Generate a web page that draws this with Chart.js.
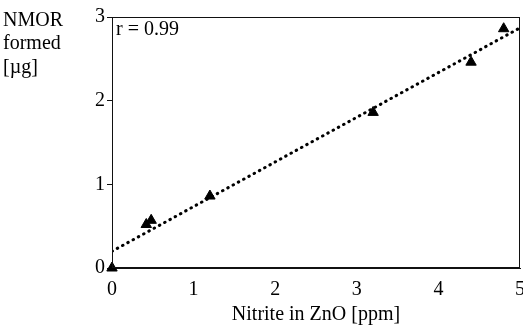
<!DOCTYPE html>
<html>
<head>
<meta charset="utf-8">
<style>
  html, body { margin: 0; padding: 0; background: #fff; }
  #wrap { width: 523px; height: 327px; }
</style>
<script src="https://cdn.jsdelivr.net/npm/chart.js@4/dist/chart.umd.min.js"></script>
</head>
<body>
<div id="wrap"><canvas id="myChart" width="523" height="327"></canvas></div>
<script>
// measured points (nitrite ppm vs NMOR µg)
const nitrite = [0, 0.42, 0.48, 1.2, 3.2, 4.4, 4.8];
const nmor = [0, 0.52, 0.57, 0.86, 1.86, 2.46, 2.86];
// regression line end points
const fitX = [0, 5];
const fitY = [0.2, 2.87];
const xTicks = [0, 1, 2, 3, 4, 5];
const yTicks = [0, 1, 2, 3];

const serif = "'Liberation Serif', 'Times New Roman', serif";

// frame + text labels
const extras = {
  id: "extras",
  afterDraw(chart) {
    const ctx = chart.ctx;
    const a = chart.chartArea;
    ctx.save();
    ctx.strokeStyle = "#111";
    ctx.lineWidth = 1;
    ctx.strokeRect(a.left + 0.5, a.top + 0.5, a.right - a.left - 1, a.bottom - a.top - 1);
    ctx.fillStyle = "#000";
    ctx.font = "20px " + serif;
    ctx.textBaseline = "alphabetic";
    ctx.textAlign = "left";
    ctx.fillText("NMOR", 3, 26);
    ctx.fillText("formed", 3, 49);
    ctx.fillText("[µg]", 3, 73);
    ctx.fillText("r = 0.99", a.left + 4, a.top + 18);
    ctx.restore();
  },
};

const ctx = document.getElementById("myChart").getContext("2d");
const chart = new Chart(ctx, {
  type: "scatter",
  data: {
    datasets: [
      {
        type: "line",
        data: fitX.map((x, i) => ({ x: x, y: fitY[i] })),
        borderColor: "#000",
        borderWidth: 3,
        borderDash: [0.5, 5.5],
        borderCapStyle: "round",
        pointRadius: 0,
        fill: false,
      },
      {
        data: nitrite.map((x, i) => ({ x: x, y: nmor[i] })),
        pointStyle: "triangle",
        pointRadius: 6,
        backgroundColor: "#000",
        borderColor: "#000",
        clip: false,
      },
    ],
  },
  options: {
    responsive: false,
    animation: false,
    layout: { autoPadding: false, padding: { top: 17, right: 3, left: 0, bottom: 0 } },
    plugins: {
      legend: { display: false },
      tooltip: { enabled: false },
    },
    scales: {
      x: {
        type: "linear",
        min: 0,
        max: 5,
        afterBuildTicks: (s) => { s.ticks = xTicks.map((v) => ({ value: v })); },
        afterFit: (s) => { s.height = 59; s.paddingRight = 0; s.paddingLeft = 0; },
        grid: { display: false, drawTicks: false },
        border: { display: true, color: "#111", width: 1 },
        ticks: { color: "#000", padding: 10, font: { family: serif, size: 20 } },
        title: {
          display: true,
          text: "Nitrite in ZnO [ppm]",
          color: "#000",
          padding: { top: 0, bottom: 0 },
          font: { family: serif, size: 20 },
        },
      },
      y: {
        type: "linear",
        min: 0,
        max: 3,
        afterBuildTicks: (s) => { s.ticks = yTicks.map((v) => ({ value: v })); },
        afterFit: (s) => { s.width = 112; },
        grid: { drawOnChartArea: false, drawTicks: true, tickLength: 5, color: "#111" },
        border: { display: true, color: "#111", width: 1 },
        ticks: { color: "#000", padding: 2, font: { family: serif, size: 20 } },
      },
    },
  },
  plugins: [extras],
});
</script>
</body>
</html>
